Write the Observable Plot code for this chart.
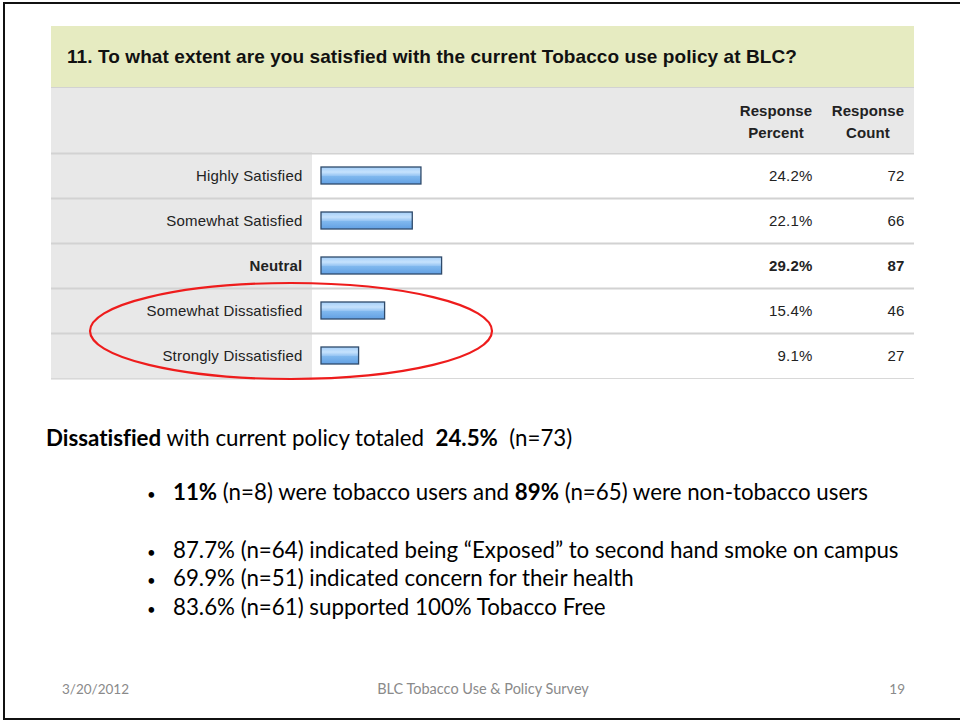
<!DOCTYPE html>
<html>
<head>
<meta charset="utf-8">
<script src="https://cdn.jsdelivr.net/npm/d3@7"></script>
<script src="https://cdn.jsdelivr.net/npm/@observablehq/plot@0.6"></script>
<style>
  body { margin: 0; background: #fff; }
  #slide { position: relative; width: 960px; height: 721px; overflow: hidden; background: #fff; font-family: Lato, "Open Sans", sans-serif; color: #000; }
  #frame { position: absolute; left: 3px; top: 2px; width: 1000px; height: 714px; border: 2px solid #111; }
  .tbl { font-family: "Liberation Sans", Arial, sans-serif; }
  #titleband { position: absolute; left: 51px; top: 26px; width: 863px; height: 61px; background: #e6ebc1; border-bottom: 1px solid #d2d2d2; }
  #titleband div { position: absolute; left: 16px; top: 0; line-height: 61px; font-size: 19px; font-weight: bold; color: #111; white-space: nowrap; letter-spacing: 0.08px; }
  #header { position: absolute; left: 51px; top: 88px; width: 863px; height: 65px; background: #e8e8e8; }
  .hcol { position: absolute; width: 100px; text-align: center; font-size: 15px; font-weight: bold; color: #222; line-height: 22px; letter-spacing: 0.1px; }
  #chart { position: absolute; left: 51px; top: 152px; }
  .line { position: absolute; white-space: nowrap; font-size: 22.3px; line-height: 26px; font-variant-ligatures: none; }
  .dot { position: absolute; font-size: 15px; line-height: 26px; }
  .foot { position: absolute; top: 681px; font-size: 13.5px; line-height: 16px; color: #8a8a8a; white-space: nowrap; }
</style>
</head>
<body>
<svg width="0" height="0" style="position:absolute">
  <defs>
    <linearGradient id="barGrad" x1="0" y1="0" x2="0" y2="1">
      <stop offset="0" stop-color="#a4cff9"/>
      <stop offset="0.3" stop-color="#c6e2fd"/>
      <stop offset="0.5" stop-color="#9ac7f4"/>
      <stop offset="0.55" stop-color="#80b8ee"/>
      <stop offset="1" stop-color="#62a0e3"/>
    </linearGradient>
  </defs>
</svg>
<div id="slide">
  <div id="frame"></div>
  <div id="titleband" class="tbl"><div id="title"></div></div>
  <div id="header" class="tbl">
    <div class="hcol" style="left:675px; top:12px;">Response<br>Percent</div>
    <div class="hcol" style="left:767px; top:12px;">Response<br>Count</div>
  </div>
  <div id="chart" class="tbl"></div>

  <div class="line" style="left:46px; top:425px;"><b>Dissatisfied</b> with current policy totaled&nbsp; <b>24.5%</b>&nbsp; (n=73)</div>
  <div class="dot" style="left:147px; top:481px;">•</div>
  <div class="line" style="left:173px; top:479px;"><b>11%</b> (n=8) were tobacco users and <b>89%</b> (n=65) were non-tobacco users</div>
  <div class="dot" style="left:147px; top:539px;">•</div>
  <div class="line" style="left:173px; top:537px;">87.7% (n=64) indicated being “Exposed” to second hand smoke on campus</div>
  <div class="dot" style="left:147px; top:567px;">•</div>
  <div class="line" style="left:173px; top:565px;">69.9% (n=51) indicated concern for their health</div>
  <div class="dot" style="left:147px; top:596px;">•</div>
  <div class="line" style="left:173px; top:594px;">83.6% (n=61) supported 100% Tobacco Free</div>

  <div class="foot" style="left:62px;">3/20/2012</div>
  <div class="foot" style="left:363px; width:240px; text-align:center; font-size:14.5px;">BLC Tobacco Use &amp; Policy Survey</div>
  <div class="foot" style="left:805px; width:100px; text-align:right;">19</div>
</div>
<script>
const question = "11. To what extent are you satisfied with the current Tobacco use policy at BLC?";
const categories = ["Highly Satisfied", "Somewhat Satisfied", "Neutral", "Somewhat Dissatisfied", "Strongly Dissatisfied"];
const percents = [24.2, 22.1, 29.2, 15.4, 9.1];
const counts = [72, 66, 87, 46, 27];
const highlighted = ["Neutral"];

document.getElementById("title").textContent = question;

const rows = categories.map((c, i) => ({category: c, percent: percents[i], count: counts[i], bold: highlighted.includes(c)}));
const pct = d => d.percent.toFixed(1) + "%";

function textSet(data, weight) {
  return [
    Plot.text(data, {y: "category", text: "category", frameAnchor: "left", dx: 251, textAnchor: "end", fill: "#222", fontSize: 15, fontWeight: weight}),
    Plot.text(data, {y: "category", text: pct, frameAnchor: "right", dx: -102, textAnchor: "end", fill: "#222", fontSize: 15, fontWeight: weight}),
    Plot.text(data, {y: "category", text: "count", frameAnchor: "right", dx: -10, textAnchor: "end", fill: "#222", fontSize: 15, fontWeight: weight})
  ];
}

const chart = Plot.plot({
  width: 863,
  height: 228,
  marginTop: 1,
  marginBottom: 2,
  marginLeft: 0,
  marginRight: 0,
  style: {background: "linear-gradient(to right, #e8e8e8 0 261px, #ffffff 261px)", fontFamily: "'Liberation Sans', Arial, sans-serif", letterSpacing: "0.2px", overflow: "visible"},
  x: {domain: [0, 100], range: [270, 683], axis: null},
  y: {domain: categories, padding: 0, axis: null},
  marks: [
    Plot.ruleY([categories[0]], {y: d => d, dy: -22.5, stroke: "#d2d2d2", strokeWidth: 2}),
    Plot.ruleY(categories.slice(0, -1), {y: d => d, dy: 22.5, stroke: "#d2d2d2", strokeWidth: 2}),
    Plot.ruleY(categories.slice(-1), {y: d => d, dy: 22.5, stroke: "#d8d8d8", strokeWidth: 1}),
    Plot.barX(rows, {y: "category", x: "percent", insetTop: 14, insetBottom: 14, fill: "url(#barGrad)", stroke: "#2f4a6a", strokeWidth: 1.3}),
    ...textSet(rows.filter(d => !d.bold), "normal"),
    ...textSet(rows.filter(d => d.bold), "bold"),
    () => d3.create("svg:ellipse")
      .attr("cx", 240).attr("cy", 179).attr("rx", 201).attr("ry", 48)
      .attr("fill", "none").attr("stroke", "#ee1c1c").attr("stroke-width", 2.2)
      .node()
  ]
});
document.getElementById("chart").appendChild(chart);
</script>
</body>
</html>
